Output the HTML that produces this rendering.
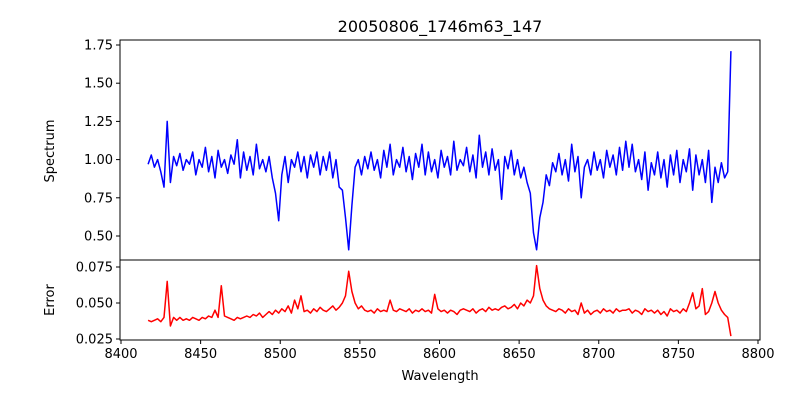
<!DOCTYPE html>
<html><head><meta charset="utf-8"><style>
body{margin:0;background:#fff;font-family:"Liberation Sans","DejaVu Sans",sans-serif}
svg text{font-family:"DejaVu Sans","Liberation Sans",sans-serif;fill:#000}
</style></head><body>
<svg id="c" width="800" height="400" viewBox="0 0 800 400"></svg>
<script>
const waveStart = 8417;
const waveStep = 2;
const flux = [
0.97,1.03,0.95,1.00,0.92,0.82,1.25,0.85,1.02,0.96,
1.04,0.93,1.00,0.97,1.05,0.90,1.00,0.95,1.08,0.92,
1.02,0.88,1.06,0.95,1.00,0.91,1.03,0.97,1.13,0.88,
1.05,0.93,1.02,0.90,1.10,0.94,1.00,0.92,1.02,0.88,
0.78,0.60,0.90,1.02,0.85,1.00,0.95,1.05,0.92,1.02,
0.88,1.03,0.95,1.05,0.90,1.02,0.93,1.05,0.88,1.00,
0.82,0.80,0.62,0.41,0.70,0.95,1.00,0.90,1.02,0.94,
1.05,0.93,1.00,0.88,1.06,0.95,1.10,0.90,1.00,0.95,
1.08,0.92,1.02,0.87,1.04,0.95,1.10,0.90,1.05,0.92,
1.00,0.88,1.06,0.95,1.02,0.90,1.12,0.93,1.00,0.96,
1.08,0.92,1.03,0.88,1.16,0.95,1.05,0.90,1.07,0.93,
1.00,0.74,1.02,0.94,1.06,0.90,1.00,0.88,0.95,0.85,
0.78,0.52,0.41,0.62,0.72,0.90,0.83,0.98,0.92,1.04,
0.90,1.00,0.86,1.10,0.92,1.02,0.75,0.95,1.00,0.90,
1.05,0.93,1.00,0.88,1.06,0.95,1.03,0.90,1.08,0.93,
1.12,0.95,1.10,0.92,1.00,0.87,1.05,0.80,0.98,0.90,
1.05,0.88,1.00,0.82,1.03,0.90,1.06,0.85,1.00,0.92,
1.07,0.80,1.03,0.90,1.00,0.85,1.06,0.72,0.95,0.85,
0.98,0.88,0.92,1.71];
const errs = [
.038,.037,.038,.039,.037,.040,.065,.034,.040,.038,
.040,.038,.039,.038,.040,.039,.038,.040,.039,.041,
.040,.045,.040,.062,.041,.040,.039,.038,.040,.039,
.040,.041,.040,.042,.041,.043,.040,.042,.044,.042,
.045,.043,.046,.044,.048,.043,.052,.046,.055,.044,
.045,.043,.046,.044,.047,.045,.044,.046,.048,.045,
.047,.050,.055,.072,.058,.050,.046,.048,.045,.044,
.045,.043,.046,.044,.045,.044,.052,.045,.044,.046,
.045,.044,.046,.043,.045,.044,.046,.044,.045,.043,
.056,.046,.044,.045,.043,.045,.044,.042,.045,.046,
.045,.044,.046,.043,.045,.046,.044,.047,.045,.046,
.045,.047,.048,.046,.047,.049,.046,.050,.048,.052,
.050,.055,.076,.060,.052,.048,.046,.045,.044,.046,
.045,.043,.046,.044,.045,.042,.050,.043,.045,.042,
.044,.045,.043,.046,.044,.045,.043,.046,.044,.045,
.045,.046,.043,.045,.044,.042,.046,.044,.045,.043,
.045,.042,.044,.041,.046,.044,.045,.043,.046,.044,
.050,.057,.046,.048,.060,.042,.044,.050,.058,.050,
.045,.042,.040,.027];
const xTicks = [8400,8450,8500,8550,8600,8650,8700,8750,8800];
const fluxTicks = [0.50,0.75,1.00,1.25,1.50,1.75];
const errTicks = [0.025,0.050,0.075];

const NS="http://www.w3.org/2000/svg";
const svg=document.getElementById('c');
function mk(tag,attrs,parent){const e=document.createElementNS(NS,tag);for(const k in attrs)e.setAttribute(k,attrs[k]);(parent||svg).appendChild(e);return e;}
const L=120,R=760,T1=40,B1=260,B2=340;
const xs=v=>121+(v-8400)*(637/400);
const ys1=v=>236-(v-0.5)*152.8;
const ys2=v=>339-(v-0.025)*1440;

let d='';flux.forEach((v,i)=>{d+=(i?'L':'M')+xs(waveStart+i*waveStep).toFixed(1)+','+ys1(v).toFixed(1);});
const p1=mk('path',{d:d,fill:'none',stroke:'#0000ff','stroke-width':1.5,'stroke-linejoin':'round'});


d='';errs.forEach((v,i)=>{d+=(i?'L':'M')+xs(waveStart+i*waveStep).toFixed(1)+','+ys2(v).toFixed(1);});
const p2=mk('path',{d:d,fill:'none',stroke:'#ff0000','stroke-width':1.5,'stroke-linejoin':'round'});



const f1=mk('rect',{x:L,y:T1,width:R-L,height:B1-T1,fill:'none',stroke:'#000','stroke-width':1});


const f2=mk('rect',{x:L,y:B1,width:R-L,height:B2-B1,fill:'none',stroke:'#000','stroke-width':1});



fluxTicks.forEach(v=>{const y=ys1(v);
mk('line',{x1:L-4,x2:L,y1:y,y2:y,stroke:'#000'});
const t=mk('text',{x:L-7,y:y+4.5,'text-anchor':'end','font-size':13});t.textContent=v.toFixed(2);

});
errTicks.forEach(v=>{const y=ys2(v);
mk('line',{x1:L-4,x2:L,y1:y,y2:y,stroke:'#000'});
const t=mk('text',{x:L-7,y:y+4.5,'text-anchor':'end','font-size':13});t.textContent=v.toFixed(3);

});
xTicks.forEach(v=>{const x=xs(v);
mk('line',{x1:x,x2:x,y1:B2,y2:B2+4,stroke:'#000'});
const t=mk('text',{x:x,y:B2+18,'text-anchor':'middle','font-size':13});t.textContent=v;

});
</script>
<svg style="position:absolute;left:0;top:0" width="800" height="400">
<text x="440" y="32" text-anchor="middle" font-size="16">20050806_1746m63_147</text>
<text x="54" y="151" text-anchor="middle" font-size="13" transform="rotate(-90 54 151)">Spectrum</text>
<text x="54" y="300" text-anchor="middle" font-size="13" transform="rotate(-90 54 300)">Error</text>
<text x="440" y="380" text-anchor="middle" font-size="13">Wavelength</text>
</svg>
</body></html>
